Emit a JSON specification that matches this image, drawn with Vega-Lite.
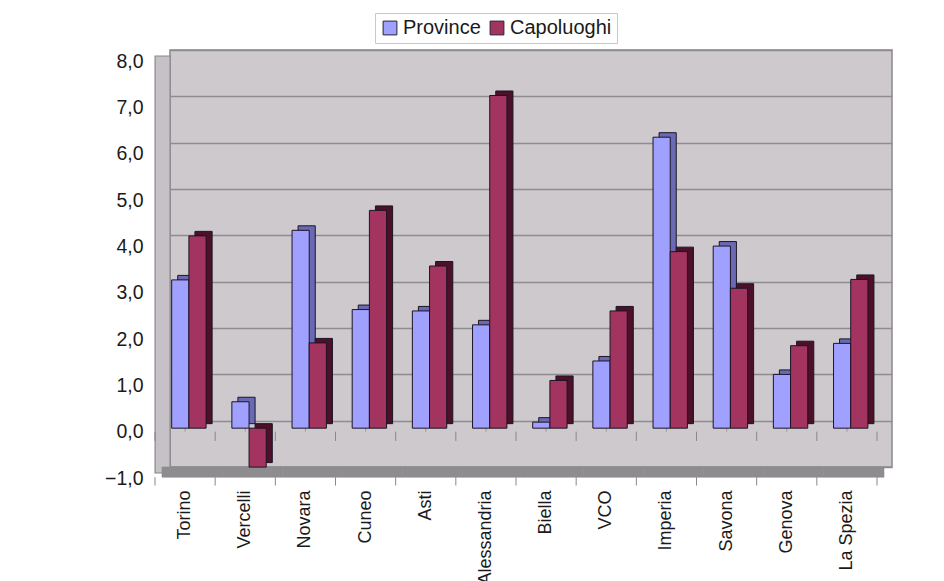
{
  "$schema": "https://vega.github.io/schema/vega-lite/v6.json",
  "autosize": "none",
  "width": 722,
  "height": 417,
  "padding": {"left": 170, "top": 50, "right": 52, "bottom": 114},
  "background": "white",
  "config": {
    "font": "Liberation Sans",
    "view": {"fill": "#cdc9cd", "stroke": "#8a888b", "strokeWidth": 1.5}
  },
  "datasets": {
    "bars": [
      {"citta": "Torino", "serie": "Province", "valore": 3.2},
      {"citta": "Torino", "serie": "Capoluoghi", "valore": 4.15},
      {"citta": "Vercelli", "serie": "Province", "valore": 0.57},
      {"citta": "Vercelli", "serie": "Capoluoghi", "valore": -0.84},
      {"citta": "Novara", "serie": "Province", "valore": 4.27},
      {"citta": "Novara", "serie": "Capoluoghi", "valore": 1.84},
      {"citta": "Cuneo", "serie": "Province", "valore": 2.56},
      {"citta": "Cuneo", "serie": "Capoluoghi", "valore": 4.7},
      {"citta": "Asti", "serie": "Province", "valore": 2.53},
      {"citta": "Asti", "serie": "Capoluoghi", "valore": 3.5},
      {"citta": "Alessandria", "serie": "Province", "valore": 2.23},
      {"citta": "Alessandria", "serie": "Capoluoghi", "valore": 7.18},
      {"citta": "Biella", "serie": "Province", "valore": 0.13},
      {"citta": "Biella", "serie": "Capoluoghi", "valore": 1.03},
      {"citta": "VCO", "serie": "Province", "valore": 1.45},
      {"citta": "VCO", "serie": "Capoluoghi", "valore": 2.53},
      {"citta": "Imperia", "serie": "Province", "valore": 6.28},
      {"citta": "Imperia", "serie": "Capoluoghi", "valore": 3.81},
      {"citta": "Savona", "serie": "Province", "valore": 3.93},
      {"citta": "Savona", "serie": "Capoluoghi", "valore": 3.02},
      {"citta": "Genova", "serie": "Province", "valore": 1.16},
      {"citta": "Genova", "serie": "Capoluoghi", "valore": 1.78},
      {"citta": "La Spezia", "serie": "Province", "valore": 1.83},
      {"citta": "La Spezia", "serie": "Capoluoghi", "valore": 3.21}
    ],
    "citta": [
      {"citta": "Torino"}, {"citta": "Vercelli"}, {"citta": "Novara"},
      {"citta": "Cuneo"}, {"citta": "Asti"}, {"citta": "Alessandria"},
      {"citta": "Biella"}, {"citta": "VCO"}, {"citta": "Imperia"},
      {"citta": "Savona"}, {"citta": "Genova"}, {"citta": "La Spezia"}
    ]
  },
  "resolve": {"scale": {"xOffset": "independent", "color": "independent"}, "legend": {"color": "independent"}},
  "encoding": {
    "x": {
      "field": "citta",
      "type": "nominal",
      "scale": {
        "domain": ["Torino", "Vercelli", "Novara", "Cuneo", "Asti", "Alessandria", "Biella", "VCO", "Imperia", "Savona", "Genova", "La Spezia"],
        "paddingInner": 0,
        "paddingOuter": 0
      },
      "axis": {
        "title": null,
        "orient": "bottom",
        "offset": 10,
        "domain": false,
        "ticks": false,
        "labelOffset": -15,
        "labelAngle": 270,
        "labelAlign": "right",
        "labelBaseline": "middle",
        "labelPadding": 13,
        "labelFontSize": 18,
        "labelColor": "#1a1a1a"
      }
    }
  },
  "layer": [
    {
      "data": {"name": "citta"},
      "transform": [{"filter": "datum.citta === 'Torino'"}],
      "mark": {"type": "bar", "width": 15, "xOffset": -37.5, "yOffset": 6, "y2Offset": 6, "fill": "#c5c1c6", "stroke": "#8a888b", "strokeWidth": 1.2},
      "encoding": {
        "y": {"datum": 8, "type": "quantitative", "scale": {"domain": [-1, 8], "nice": false}},
        "y2": {"datum": -1}
      }
    },
    {
      "data": {"name": "citta"},
      "mark": {"type": "bar", "xOffset": -8, "fill": "#8f8c90", "stroke": "#8f8c90", "strokeWidth": 0.6},
      "encoding": {
        "y": {"datum": -1, "type": "quantitative"},
        "y2": {"datum": -1.22}
      }
    },
    {
      "data": {"name": "citta"},
      "mark": {"type": "rule", "xOffset": -15, "yOffset": 11, "color": "#9a989b", "strokeWidth": 1},
      "encoding": {
        "y": {"datum": 0, "type": "quantitative"}
      }
    },
    {
      "data": {"name": "citta"},
      "mark": {"type": "rule", "xOffset": -15, "yOffset": 11, "y2Offset": 11, "color": "#8a888b", "strokeWidth": 1},
      "encoding": {
        "x": {"field": "citta", "type": "nominal", "bandPosition": 0},
        "y": {"datum": 0, "type": "quantitative"},
        "y2": {"datum": -0.2}
      }
    },
    {
      "data": {"name": "citta"},
      "transform": [{"filter": "datum.citta === 'La Spezia'"}],
      "mark": {"type": "rule", "xOffset": -15, "yOffset": 11, "y2Offset": 11, "color": "#8a888b", "strokeWidth": 1},
      "encoding": {
        "x": {"field": "citta", "type": "nominal", "bandPosition": 1},
        "y": {"datum": 0, "type": "quantitative"},
        "y2": {"datum": -0.2}
      }
    },
    {
      "data": {"name": "citta"},
      "mark": {"type": "rule", "xOffset": -15, "color": "#8a888b", "strokeWidth": 1},
      "encoding": {
        "x": {"field": "citta", "type": "nominal", "bandPosition": 0},
        "y": {"datum": -1.22, "type": "quantitative"},
        "y2": {"datum": -1.4}
      }
    },
    {
      "data": {"name": "citta"},
      "transform": [{"filter": "datum.citta === 'La Spezia'"}],
      "mark": {"type": "rule", "xOffset": -15, "color": "#8a888b", "strokeWidth": 1},
      "encoding": {
        "x": {"field": "citta", "type": "nominal", "bandPosition": 1},
        "y": {"datum": -1.22, "type": "quantitative"},
        "y2": {"datum": -1.4}
      }
    },
    {
      "data": {"name": "bars"},
      "mark": {"type": "bar", "yOffset": 3, "y2Offset": 3, "stroke": "#1c1426", "strokeWidth": 1},
      "encoding": {
        "xOffset": {
          "field": "serie",
          "type": "nominal",
          "sort": ["Province", "Capoluoghi"],
          "scale": {"paddingInner": 0, "paddingOuter": 0.75, "align": 0.3}
        },
        "y": {"field": "valore", "type": "quantitative", "stack": null},
        "y2": {"datum": 0},
        "color": {
          "field": "serie",
          "type": "nominal",
          "scale": {"domain": ["Province", "Capoluoghi"], "range": ["#6a6ab4", "#4c1029"]},
          "legend": null
        }
      }
    },
    {
      "data": {"name": "bars"},
      "mark": {"type": "bar", "yOffset": 7.5, "y2Offset": 7.5, "stroke": "#1c1426", "strokeWidth": 1},
      "encoding": {
        "xOffset": {
          "field": "serie",
          "type": "nominal",
          "sort": ["Province", "Capoluoghi"],
          "scale": {"paddingInner": 0, "paddingOuter": 0.75, "align": 0.066}
        },
        "y": {
          "field": "valore",
          "type": "quantitative",
          "stack": null,
          "axis": {
            "title": null,
            "orient": "left",
            "offset": 15,
            "values": [-1, 0, 1, 2, 3, 4, 5, 6, 7, 8],
            "labelExpr": "replace(format(datum.value, '.1f'), '.', ',')",
            "labelOffset": 11,
            "ticks": false,
            "domain": false,
            "labelPadding": 12,
            "labelFontSize": 19.5,
            "labelColor": "#1a1a1a",
            "grid": true,
            "gridColor": "#8e8c8f",
            "gridWidth": 1.3
          }
        },
        "y2": {"datum": 0},
        "color": {
          "field": "serie",
          "type": "nominal",
          "scale": {"domain": ["Province", "Capoluoghi"], "range": ["#a0a0ff", "#a3345f"]},
          "legend": {
            "title": null,
            "orient": "none",
            "direction": "horizontal",
            "legendX": 205,
            "legendY": -37,
            "symbolType": "square",
            "symbolSize": 190,
            "symbolStrokeColor": "#222233",
            "symbolStrokeWidth": 1,
            "labelFontSize": 20,
            "labelColor": "#1a1a1a",
            "labelOffset": 3,
            "columnPadding": 6,
            "padding": 5,
            "fillColor": "white",
            "strokeColor": "#c8c8c8"
          }
        }
      }
    }
  ]
}
